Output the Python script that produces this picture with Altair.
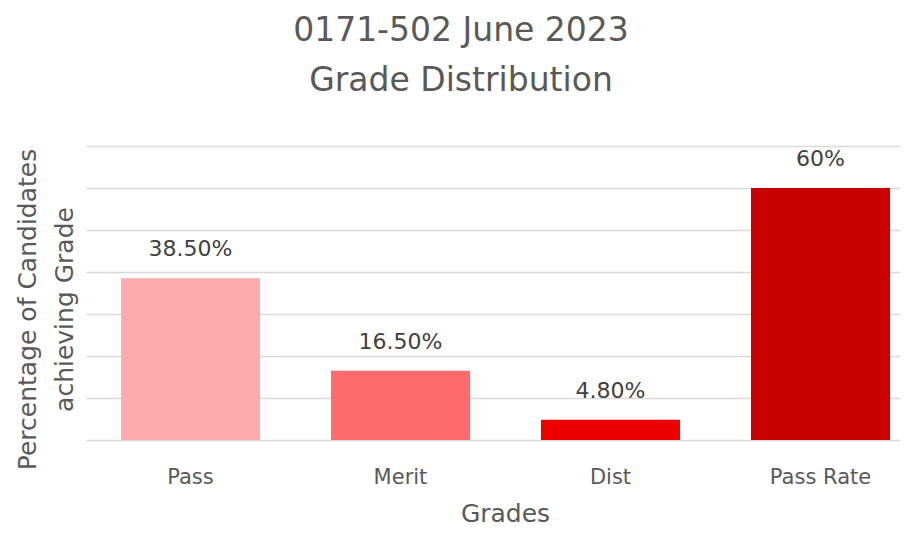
import altair as alt
import pandas as pd

grades = ["Pass", "Merit", "Dist", "Pass Rate"]
values = [0.385, 0.165, 0.048, 0.60]
value_labels = ["38.50%", "16.50%", "4.80%", "60%"]
bar_colors = ["#FFABAB", "#FF6B6B", "#EE0000", "#C80000"]
y_ticks = [0, 0.1, 0.2, 0.3, 0.4, 0.5, 0.6, 0.7]
title_lines = ["0171-502 June 2023", "Grade Distribution"]
y_title = ["Percentage of Candidates", "achieving Grade"]
x_title = "Grades"

df = pd.DataFrame({"grade": grades, "value": values, "label": value_labels})

FONT = "DejaVu Sans"
GREY = "#595959"

x_enc = alt.X(
    "grade:N",
    sort=grades,
    scale=alt.Scale(paddingInner=0.338, paddingOuter=0.107, align=0.778),
    axis=alt.Axis(
        title=x_title,
        labelAngle=0,
        labelFontSize=21,
        labelFont=FONT,
        labelColor=GREY,
        labelPadding=26,
        ticks=False,
        tickSize=0,
        domain=False,
        titleFont=FONT,
        titleFontSize=25,
        titleFontWeight="normal",
        titleColor=GREY,
        titleX=419,
        titleY=81,
        titleBaseline="alphabetic",
        titleAlign="center",
    ),
)

y_enc = alt.Y(
    "value:Q",
    scale=alt.Scale(domain=[0, 0.7], nice=False),
    axis=alt.Axis(
        values=y_ticks,
        labels=False,
        ticks=False,
        domain=False,
        grid=True,
        gridColor="#D9D9D9",
        gridWidth=1.5,
        title=y_title,
        titleFont=FONT,
        titleFontSize=25,
        titleFontWeight="normal",
        titleColor=GREY,
        titleAngle=270,
        titleBaseline="alphabetic",
        titleLineHeight=37,
        titleAlign="center",
        titleX=-51,
        titleY=163,
    ),
)

base = alt.Chart(df)

bars = base.mark_bar().encode(
    x=x_enc,
    y=y_enc,
    color=alt.Color("grade:N", scale=alt.Scale(domain=grades, range=bar_colors), legend=None),
)

texts = base.mark_text(
    dy=-22, baseline="alphabetic", fontSize=22, font=FONT, color="#404040"
).encode(x=alt.X("grade:N", sort=grades), y="value:Q", text="label:N")

chart = (
    alt.layer(bars, texts)
    .properties(
        width=814,
        height=294,
        autosize=alt.AutoSizeParams(type="none"),
        padding={"left": 78, "top": 138, "right": 3, "bottom": 87},
        title=alt.TitleParams(
            text=title_lines,
            font=FONT,
            fontSize=33,
            fontWeight="normal",
            color=GREY,
            lineHeight=50,
            offset=48,
            dx=-32,
            anchor="middle",
        ),
    )
    .configure_view(stroke=None)
)

chart.save("out.html", embed_options={"renderer": "svg", "actions": False})
